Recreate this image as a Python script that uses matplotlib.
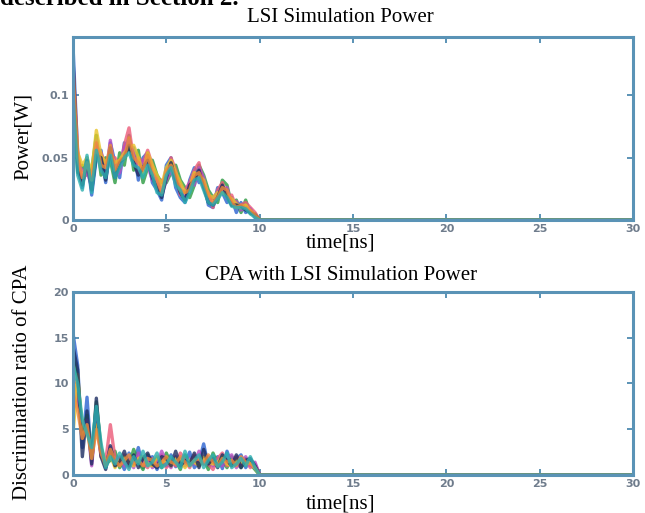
import numpy as np
import matplotlib
matplotlib.use('Agg')
import matplotlib.pyplot as plt

# time axis [ns], samples every 0.25 ns up to 10 ns, then flat to 30 ns
t_ns = np.arange(0, 10.001, 0.25)
t_end = 30

# LSI simulation power traces [W]
power_traces = [
    [0.140, 0.052, 0.026, 0.050, 0.020, 0.050, 0.056, 0.030, 0.062, 0.046, 0.034, 0.062, 0.056, 0.058, 0.032, 0.050, 0.054, 0.030, 0.024, 0.016, 0.044,
     0.050, 0.026, 0.018, 0.014, 0.032, 0.042, 0.030, 0.032, 0.012, 0.010, 0.026, 0.022, 0.014, 0.018, 0.006, 0.014, 0.006, 0.008, 0.002, 0.0],
    [0.110, 0.038, 0.044, 0.036, 0.040, 0.068, 0.036, 0.050, 0.048, 0.030, 0.054, 0.044, 0.068, 0.040, 0.056, 0.030, 0.042, 0.048, 0.036, 0.030, 0.030,
     0.038, 0.044, 0.032, 0.026, 0.018, 0.028, 0.044, 0.036, 0.024, 0.018, 0.014, 0.032, 0.028, 0.012, 0.016, 0.006, 0.016, 0.005, 0.005, 0.0],
    [0.125, 0.056, 0.030, 0.040, 0.034, 0.058, 0.054, 0.044, 0.050, 0.050, 0.040, 0.060, 0.074, 0.048, 0.050, 0.046, 0.056, 0.044, 0.026, 0.032, 0.032,
     0.050, 0.040, 0.020, 0.024, 0.030, 0.040, 0.046, 0.026, 0.022, 0.010, 0.024, 0.030, 0.018, 0.020, 0.010, 0.012, 0.014, 0.010, 0.006, 0.0],
    [0.115, 0.044, 0.040, 0.038, 0.028, 0.064, 0.042, 0.034, 0.064, 0.036, 0.038, 0.058, 0.064, 0.054, 0.038, 0.048, 0.044, 0.032, 0.034, 0.020, 0.032,
     0.040, 0.030, 0.028, 0.018, 0.030, 0.028, 0.042, 0.034, 0.016, 0.018, 0.022, 0.024, 0.026, 0.012, 0.015, 0.008, 0.010, 0.009, 0.003, 0.0],
    [0.105, 0.054, 0.044, 0.050, 0.038, 0.072, 0.052, 0.046, 0.052, 0.046, 0.048, 0.054, 0.058, 0.060, 0.050, 0.038, 0.054, 0.044, 0.036, 0.028, 0.042,
     0.048, 0.038, 0.030, 0.022, 0.026, 0.038, 0.036, 0.032, 0.020, 0.018, 0.022, 0.022, 0.020, 0.017, 0.013, 0.010, 0.012, 0.007, 0.004, 0.0],
    [0.130, 0.040, 0.028, 0.048, 0.024, 0.052, 0.050, 0.032, 0.058, 0.034, 0.046, 0.050, 0.060, 0.046, 0.036, 0.042, 0.048, 0.034, 0.026, 0.018, 0.034,
     0.046, 0.032, 0.022, 0.016, 0.028, 0.032, 0.040, 0.026, 0.014, 0.012, 0.018, 0.028, 0.019, 0.012, 0.012, 0.011, 0.008, 0.006, 0.004, 0.0],
    [0.120, 0.050, 0.034, 0.046, 0.032, 0.062, 0.044, 0.042, 0.060, 0.040, 0.048, 0.050, 0.066, 0.050, 0.046, 0.040, 0.052, 0.038, 0.032, 0.022, 0.040,
     0.044, 0.036, 0.024, 0.022, 0.024, 0.036, 0.038, 0.030, 0.020, 0.014, 0.018, 0.026, 0.024, 0.014, 0.010, 0.012, 0.010, 0.008, 0.004, 0.0],
    [0.100, 0.036, 0.024, 0.052, 0.022, 0.056, 0.040, 0.034, 0.052, 0.034, 0.042, 0.050, 0.054, 0.044, 0.042, 0.034, 0.044, 0.036, 0.022, 0.020, 0.036,
     0.042, 0.028, 0.024, 0.014, 0.022, 0.032, 0.034, 0.024, 0.014, 0.012, 0.017, 0.022, 0.018, 0.011, 0.010, 0.010, 0.009, 0.005, 0.002, 0.0],
]

# CPA discrimination ratio traces
cpa_traces = [
    [15.5, 12.0, 3.0, 8.5, 1.5, 7.0, 2.5, 0.8, 2.5, 1.0, 1.8, 0.6, 2.4, 1.2, 3.0, 0.8, 1.5, 2.0, 0.6, 1.6, 1.0,
     2.2, 0.9, 1.8, 1.2, 2.5, 0.8, 1.4, 3.4, 1.0, 1.6, 2.0, 0.7, 2.6, 1.2, 1.8, 2.2, 0.8, 1.6, 1.0, 0.0],
    [13.0, 10.5, 5.0, 6.5, 2.0, 8.0, 3.0, 1.2, 1.6, 2.6, 0.8, 1.8, 1.0, 2.8, 1.4, 0.6, 2.2, 1.0, 1.8, 0.8, 2.4,
     1.2, 1.6, 0.6, 2.2, 1.4, 2.0, 1.0, 1.8, 0.6, 2.4, 1.2, 1.6, 0.8, 2.0, 1.4, 0.8, 1.8, 1.2, 0.6, 0.0],
    [11.0, 9.0, 4.0, 5.5, 2.5, 6.0, 2.0, 1.5, 5.5, 1.8, 1.2, 2.2, 0.8, 1.6, 2.0, 1.2, 0.8, 1.8, 1.4, 2.2, 0.8,
     1.6, 1.0, 2.4, 1.6, 0.8, 2.2, 1.4, 1.8, 1.2, 0.6, 1.8, 2.4, 1.0, 1.4, 2.0, 1.2, 1.6, 0.8, 1.2, 0.0],
    [10.0, 8.0, 5.5, 6.0, 1.0, 6.5, 2.2, 1.0, 3.0, 1.4, 2.0, 1.0, 1.8, 0.8, 2.4, 1.4, 2.0, 0.8, 1.2, 2.6, 1.4,
     0.8, 2.0, 1.2, 1.0, 1.8, 1.2, 2.6, 1.2, 2.0, 1.0, 1.6, 1.0, 1.8, 2.2, 0.8, 1.4, 2.0, 1.0, 1.4, 0.0],
    [4.5, 11.0, 4.5, 5.0, 2.0, 5.5, 2.8, 1.4, 2.2, 0.8, 1.6, 2.0, 1.4, 1.0, 1.8, 2.0, 1.2, 1.0, 2.0, 1.4, 1.6,
     1.0, 1.8, 1.6, 0.8, 1.6, 1.4, 1.0, 2.0, 1.4, 1.2, 1.4, 2.0, 1.2, 1.0, 1.6, 1.4, 1.2, 1.4, 0.8, 0.0],
    [14.0, 11.5, 2.0, 7.0, 1.2, 8.4, 2.0, 0.6, 3.2, 1.0, 1.4, 2.6, 1.0, 2.2, 0.8, 1.8, 2.4, 1.2, 0.8, 2.0, 1.8,
     1.0, 2.6, 1.0, 1.6, 1.2, 2.4, 0.8, 2.8, 1.2, 1.8, 0.8, 2.2, 1.6, 1.0, 2.2, 0.8, 1.6, 1.8, 1.0, 0.0],
    [9.0, 7.0, 4.0, 5.5, 1.8, 5.0, 2.4, 1.0, 2.8, 1.6, 1.0, 1.6, 2.2, 1.2, 1.6, 1.0, 1.8, 1.6, 1.0, 1.4, 2.0,
     1.4, 1.2, 2.0, 1.4, 1.0, 1.6, 1.8, 1.2, 2.2, 1.4, 1.0, 1.8, 1.4, 1.6, 1.0, 2.0, 1.4, 1.2, 0.8, 0.0],
    [12.0, 10.0, 6.0, 4.5, 3.0, 7.5, 3.5, 0.8, 2.0, 1.2, 2.4, 1.4, 0.6, 2.0, 1.2, 2.6, 1.0, 1.4, 2.4, 0.8, 1.2,
     2.0, 1.4, 0.8, 2.6, 1.0, 1.6, 2.2, 0.8, 1.6, 2.2, 0.9, 1.4, 2.4, 0.8, 1.2, 1.8, 1.0, 2.0, 0.8, 0.0],
]

colors = ['#2a62d0', '#2a9a40', '#ec5a78', '#b64cc4', '#e8c428', '#1c2c60', '#f08c3a', '#2cb0b0']
frame_col = '#5a93b6'
tick_col = '#6f7c8c'
serif = ['Liberation Serif', 'DejaVu Serif']

fig = plt.figure(figsize=(6.45, 5.13), dpi=100)
ax1 = fig.add_axes([0.1132, 0.5712, 0.8682, 0.3567])
ax2 = fig.add_axes([0.1132, 0.0741, 0.8682, 0.3567])


def draw(ax, traces, ylim, yticks, yticklabels):
    for vals, c in zip(traces, colors):
        x = list(t_ns) + [t_end]
        y = list(vals) + [0.0]
        ax.plot(x, y, color=c, lw=2.4, alpha=0.8, solid_joinstyle='round')
    ax.set_xlim(0, 30)
    ax.set_ylim(*ylim)
    ax.set_xticks([0, 5, 10, 15, 20, 25, 30])
    ax.set_yticks(yticks)
    ax.set_yticklabels(yticklabels)
    ax.tick_params(direction='in', length=4, width=1.4, color=frame_col,
                   top=True, right=True, labelsize=8, labelcolor=tick_col, pad=3)
    for lab in ax.get_xticklabels() + ax.get_yticklabels():
        lab.set_fontweight('bold')
    for sp in ax.spines.values():
        sp.set_color(frame_col)
        sp.set_linewidth(2.2)


draw(ax1, power_traces, (0, 0.147), [0, 0.05, 0.1], ['0', '0.05', '0.1'])
draw(ax2, cpa_traces, (0, 20), [0, 5, 10, 15, 20], ['0', '5', '10', '15', '20'])

# titles and labels (serif, like the original figure)
fig.text(340 / 645, 1 - 17 / 513, 'LSI Simulation Power', family=serif, fontsize=15, ha='center', va='center')
fig.text(341 / 645, 1 - 276 / 513, 'CPA with LSI Simulation Power', family=serif, fontsize=15, ha='center', va='center')
fig.text(340 / 645, 1 - 243 / 513, 'time[ns]', family=serif, fontsize=15, ha='center', va='center')
fig.text(340 / 645, 1 - 504 / 513, 'time[ns]', family=serif, fontsize=15, ha='center', va='center')
fig.text(23 / 645, 1 - 137 / 513, 'Power[W]', family=serif, fontsize=15, ha='center', va='center', rotation=90)
fig.text(23 / 645, 1 - 382 / 513, 'Discrimination ratio of CPA', family=serif, fontsize=15, ha='center', va='center', rotation=90)

# cut-off line of page text above the figure (only its lower part shows)
fig.text(0.0, 1 - 5 / 513, 'described in Section 2.', family=serif, fontsize=18, fontweight='bold', ha='left', va='baseline')

fig.savefig('out.png', dpi=100)
